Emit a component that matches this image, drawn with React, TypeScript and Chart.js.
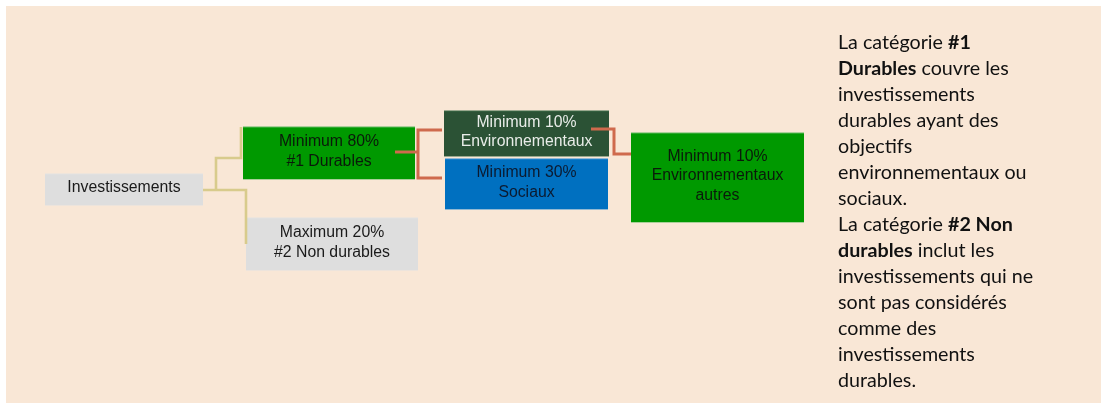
import React, { useEffect, useRef } from "react";
import { Chart, registerables } from "chart.js";

Chart.register(...registerables);

// Diagram nodes (coordinates in diagram units, 0..1101 x 0..403)
const nodeLabels = [
  "Investissements",
  "Minimum 80%\n#1 Durables",
  "Maximum 20%\n#2 Non durables",
  "Minimum 10%\nEnvironnementaux",
  "Minimum 30%\nSociaux",
  "Minimum 10%\nEnvironnementaux\nautres",
];
const nodeX0 = [45, 243, 246, 444, 445, 631];
const nodeX1 = [203, 415, 418, 609, 608, 804];
const nodeY0 = [174, 127, 218, 111, 159, 133];
const nodeY1 = [205, 179, 270, 156, 209, 222];
const nodeFill = ["#dedede", "#009900", "#dedede", "#2b5235", "#0070c0", "#009900"];
const nodeBorder = ["#e2e2e2", "#5cb85c", "#e2e2e2", "#3c6a48", "#2f8bd0", "#5cb85c"];
const nodeText = ["#1a1a1a", "#0a1a0a", "#1a1a1a", "#e8ece8", "#0b1a30", "#0a1a0a"];

// Connectors
const linkXs = [
  [203, 246, 246],
  [216, 216, 241, 241],
  [395, 418],
  [442, 418, 418, 442],
  [591, 614, 614, 631],
];
const linkYs = [
  [190, 190, 244],
  [190, 158, 158, 127],
  [152, 152],
  [130, 130, 178, 178],
  [129, 129, 154, 154],
];
const linkColors = ["#d8cb8c", "#d8cb8c", "#cf6a4d", "#cf6a4d", "#cf6a4d"];
const linkWidths = [2.6, 2.6, 3, 3, 3];

const W = 1101;
const H = 403;

const labelPlugin = {
  id: "nodeLabels",
  afterDatasetsDraw(chart: any) {
    const { ctx, scales } = chart;
    const xs = scales.x;
    const ys = scales.y;
    ctx.save();
    ctx.font = "15.8px 'Liberation Sans', Arial, sans-serif";
    ctx.textAlign = "center";
    ctx.textBaseline = "middle";
    nodeLabels.forEach((label, i) => {
      const cx = (xs.getPixelForValue(nodeX0[i]) + xs.getPixelForValue(nodeX1[i])) / 2;
      const cy = (ys.getPixelForValue(nodeY0[i]) + ys.getPixelForValue(nodeY1[i])) / 2 - 1.5;
      const lines = label.split("\n");
      const lh = 19.3;
      ctx.fillStyle = nodeText[i];
      lines.forEach((ln, j) => {
        ctx.fillText(ln, cx, cy + (j - (lines.length - 1) / 2) * lh);
      });
    });
    ctx.restore();
  },
};

export default function App() {
  const ref = useRef<HTMLCanvasElement | null>(null);

  useEffect(() => {
    if (!ref.current) return;
    const datasets: any[] = [];
    nodeLabels.forEach((_, i) => {
      datasets.push({
        type: "line",
        data: [
          { x: nodeX0[i], y: nodeY0[i] },
          { x: nodeX1[i], y: nodeY0[i] },
        ],
        showLine: true,
        borderColor: nodeBorder[i],
        borderWidth: 1,
        backgroundColor: nodeFill[i],
        fill: "+1",
        pointRadius: 0,
        tension: 0,
        order: 3,
      });
      datasets.push({
        type: "line",
        data: [
          { x: nodeX0[i], y: nodeY1[i] },
          { x: nodeX1[i], y: nodeY1[i] },
        ],
        showLine: true,
        borderColor: nodeBorder[i],
        borderWidth: 1,
        backgroundColor: nodeFill[i],
        fill: false,
        pointRadius: 0,
        tension: 0,
        order: 3,
      });
    });
    linkXs.forEach((xs, i) => {
      datasets.push({
        type: "line",
        data: xs.map((x, j) => ({ x, y: linkYs[i][j] })),
        showLine: true,
        borderColor: linkColors[i],
        borderWidth: linkWidths[i],
        borderJoinStyle: "miter",
        fill: false,
        pointRadius: 0,
        tension: 0,
        order: 1,
      });
    });

    const chart = new Chart(ref.current, {
      type: "scatter",
      data: { datasets },
      options: {
        animation: false,
        responsive: false,
        devicePixelRatio: 1,
        layout: { padding: 0 },
        scales: {
          x: { type: "linear", min: 0, max: W, display: false },
          y: { type: "linear", min: 0, max: H, reverse: true, display: false },
        },
        plugins: {
          legend: { display: false },
          tooltip: { enabled: false },
        },
        events: [],
      },
      plugins: [labelPlugin],
    } as any);
    return () => chart.destroy();
  }, []);

  const b = { fontWeight: 700 } as React.CSSProperties;

  return (
    <div
      style={{
        position: "absolute",
        left: 0,
        top: 0,
        width: W,
        height: H,
        background: "#ffffff",
        overflow: "hidden",
      }}
    >
      <div
        style={{
          position: "absolute",
          left: 6,
          top: 6,
          width: W - 6,
          height: H - 6,
          background: "#f9e7d6",
        }}
      />
      <canvas
        ref={ref}
        width={W}
        height={H}
        style={{ position: "absolute", left: 0, top: 0, width: W, height: H }}
      />
      <div
        style={{
          position: "absolute",
          left: 838,
          top: 29,
          fontFamily: "Lato, 'Open Sans', sans-serif",
          fontSize: 19.7,
          lineHeight: "26px",
          color: "#111111",
          whiteSpace: "nowrap",
        }}
      >
        <div>La catégorie <span style={b}>#1</span></div>
        <div><span style={b}>Durables</span> couvre les</div>
        <div>investissements</div>
        <div>durables ayant des</div>
        <div>objectifs</div>
        <div>environnementaux ou</div>
        <div>sociaux.</div>
        <div>La catégorie <span style={b}>#2 Non</span></div>
        <div><span style={b}>durables</span> inclut les</div>
        <div>investissements qui ne</div>
        <div>sont pas considérés</div>
        <div>comme des</div>
        <div>investissements</div>
        <div>durables.</div>
      </div>
    </div>
  );
}
